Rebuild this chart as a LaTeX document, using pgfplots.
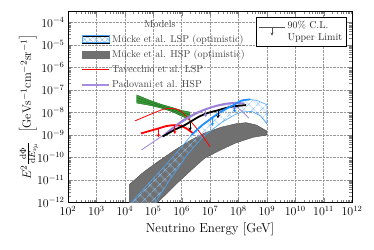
\documentclass[border=0pt]{standalone}
\usepackage{pgfplots}
\pgfplotsset{compat=1.18}
\usetikzlibrary{arrows.meta,patterns.meta}
\definecolor{ublue}{HTML}{1E8FFF}
\definecolor{hblue}{HTML}{8CC0F2}
\definecolor{eblue}{HTML}{4BA6FA}
\definecolor{gfill}{HTML}{707070}
\definecolor{gedge}{HTML}{505050}
\definecolor{gr}{HTML}{3E9E3E}
\definecolor{dgr}{HTML}{1B6B1B}
\definecolor{purp}{HTML}{A48DDE}
\definecolor{purpk}{HTML}{9C80D8}
\pgfplotsset{table/lg/.style={x expr={10^(\thisrowno{0})}, y expr={10^(\thisrowno{1})}}}
\tikzset{arr/.style={-{Stealth[length=3pt,width=3.5pt]}, line width=0.9pt}}
\begin{document}
\begin{tikzpicture}
\begin{axis}[name=ax, scale only axis, width=284pt, height=191pt,
  xmode=log, ymode=log, xmin=1e2, xmax=1e12, ymin=1e-12, ymax=3.09e-4,
  xtick={1e2,1e3,1e4,1e5,1e6,1e7,1e8,1e9,1e10,1e11,1e12},
  ytick={1e-12,1e-11,1e-10,1e-9,1e-8,1e-7,1e-6,1e-5,1e-4},
  grid=major, major grid style={densely dotted, gray!80},
  tick label style={font=\fontsize{12}{14}\selectfont},
  label style={font=\fontsize{13}{15}\selectfont},
  xlabel={Neutrino Energy [GeV]},
  ylabel={$E^2\frac{\mathrm{d}\Phi}{\mathrm{d}E_{\nu_\mu}}$\ \ $\left[\mathrm{GeV s^{-1} cm^{-2} sr^{-1}}\right]$},
  ylabel shift=-8pt,
  legend style={at={(rel axis cs:0.035,0.9)}, anchor=north west, draw=none, fill=none,
    font=\fontsize{10}{12}\selectfont, text=black!75, row sep=2.4pt},
  legend cell align=left,
]
% grey band (HSP)
\addplot[fill=gfill, draw=gedge, line width=0.4pt, forget plot] table[lg] {
4.16 -11.2
4.66 -10.65
5.17 -10.18
5.78 -9.65
6.35 -9.21
6.79 -8.92
7.40 -8.65
7.91 -8.5
8.27 -8.45
8.62 -8.55
9.0 -8.82
9.0 -9.0
8.52 -9.1
7.91 -9.35
7.40 -9.65
6.81 -10.03
6.35 -10.55
5.88 -11.1
5.48 -11.6
5.07 -12.1
4.16 -12.1
} -- cycle;
% blue hatched band (LSP)
\addplot[pattern={Hatch[angle=45,distance=6.5pt,line width=0.7pt]}, pattern color=hblue, draw=eblue, line width=0.6pt, forget plot] table[lg] {
4.16 -12.1
4.66 -11.4
5.17 -10.7
5.78 -9.85
6.35 -9.0
6.69 -8.6
7.06 -8.25
7.40 -7.95
7.81 -7.68
8.11 -7.47
8.37 -7.42
8.62 -7.45
9.0 -7.65
9.0 -8.5
8.78 -8.15
8.47 -7.95
8.11 -7.98
7.87 -8.1
7.40 -8.45
6.76 -9.07
6.18 -9.9
5.58 -11.0
5.02 -12.1
} -- cycle;
% green band
\addplot[fill=gr, draw=dgr, line width=0.4pt, forget plot] table[lg] {
4.42 -7.22
4.87 -7.45
5.27 -7.63
5.68 -7.78
5.98 -7.9
6.29 -7.98
6.29 -8.32
5.98 -8.15
5.68 -7.97
5.27 -7.8
4.87 -7.68
4.42 -7.58
} -- cycle;
\addplot[dgr, line width=0.5pt, forget plot] table[lg] {
4.42 -7.34
4.87 -7.53
5.27 -7.69
5.68 -7.85
5.98 -7.99
6.29 -8.1
};
\addplot[dgr, line width=0.5pt, forget plot] table[lg] {
4.42 -7.46
4.87 -7.61
5.27 -7.75
5.68 -7.91
5.98 -8.07
6.29 -8.21
};
% Tavecchio LSP (thin red)
\addplot[red, line width=0.8pt, smooth, forget plot] table[lg] {
4.36 -8.37
4.87 -8.1
5.38 -7.85
5.73 -7.83
5.98 -7.95
6.29 -8.35
6.59 -8.8
6.8 -9.15
7.0 -9.52
};
% Padovani HSP (thin purple)
\addplot[purp, line width=0.9pt, smooth, forget plot] table[lg] {
4.59 -9.66
5.07 -9.25
5.48 -8.9
5.88 -8.55
6.39 -8.15
6.9 -7.85
7.4 -7.68
7.71 -7.66
8.01 -7.82
8.37 -8.25
};
% upper limits
\addplot[red, line width=1.8pt, smooth, forget plot] table[lg] {
4.57 -8.93
4.87 -8.82
5.18 -8.71
5.48 -8.6
5.76 -8.56
5.98 -8.6
6.17 -8.71
6.41 -8.93
};
\addplot[purpk, line width=1.8pt, smooth, forget plot] table[lg] {
5.43 -8.95
5.78 -8.6
6.11 -8.3
6.59 -7.98
6.9 -7.83
7.28 -7.68
7.61 -7.6
7.91 -7.57
8.22 -7.6
};
\addplot[black, line width=1.8pt, smooth, forget plot] table[lg] {
5.33 -9.07
5.78 -8.75
6.11 -8.56
6.59 -8.2
6.9 -8.03
7.28 -7.9
7.71 -7.75
8.01 -7.7
8.27 -7.67
};
\addplot[ublue, line width=1.8pt, smooth, forget plot] table[lg] {
6.35 -9.0
6.69 -8.6
7.06 -8.25
7.40 -7.95
7.81 -7.68
8.11 -7.47
8.42 -7.42
};
% arrows
\addplot[red, arr, forget plot] table[lg] {
5.18 -8.71
5.18 -9.1
};
\addplot[red, arr, forget plot] table[lg] {
5.76 -8.56
5.76 -8.95
};
\addplot[black, arr, forget plot] table[lg] {
6.3 -8.45
6.3 -8.8
};
\addplot[black, arr, forget plot] table[lg] {
7.28 -7.9
7.28 -8.25
};
\addplot[purpk, arr, forget plot] table[lg] {
6.85 -7.86
6.85 -8.2
};
\addplot[purpk, arr, forget plot] table[lg] {
7.86 -7.58
7.86 -7.9
};
\addplot[ublue, arr, forget plot] table[lg] {
7.08 -8.23
7.08 -8.6
};
\addplot[ublue, arr, forget plot] table[lg] {
7.87 -7.64
7.87 -8.0
};
\node[font=\fontsize{10}{12}\selectfont, text=black!75] at (rel axis cs:0.324,0.933) {Models};
\addlegendimage{legend image code/.code={
  \fill[pattern={Hatch[angle=45,distance=4pt,line width=0.5pt]}, pattern color=hblue] (0pt,-3.5pt) rectangle (27pt,3.5pt);
  \draw[eblue, line width=0.7pt] (0pt,-3.5pt) rectangle (27pt,3.5pt);}}
\addlegendentry{M\"ucke et al. LSP (optimistic)}
\addlegendimage{legend image code/.code={\fill[gfill] (0pt,-3.5pt) rectangle (27pt,3.5pt);}}
\addlegendentry{M\"ucke et al. HSP (optimistic)}
\addlegendimage{legend image code/.code={\draw[red, line width=0.8pt] (0pt,0pt) -- (27pt,0pt);}}
\addlegendentry{Tavecchio et al. LSP}
\addlegendimage{legend image code/.code={\draw[purp, line width=2pt] (0pt,0pt) -- (27pt,0pt);}}
\addlegendentry{Padovani et al. HSP}
\end{axis}
\begin{axis}[scale only axis, width=284pt, height=191pt, hide axis,
  xmode=log, ymode=log, xmin=1e2, xmax=1e12, ymin=1e-12, ymax=3.09e-4,
  legend style={at={(rel axis cs:0.981,0.973)}, anchor=north east, draw=black, line width=0.8pt, fill=white,
    font=\fontsize{10}{12}\selectfont, text=black!85, cells={align=left}, inner sep=2pt},
  legend cell align=left]
\addplot[draw=none, forget plot] coordinates {(1e3,1e-8)};
\addlegendimage{legend image code/.code={
  \draw[gray!65!black, line width=1.2pt] (0pt,4pt) -- (26pt,4pt);
  \draw[gray!65!black, line width=0.8pt, -{Stealth[length=3pt,width=3pt]}] (13pt,4pt) -- (13pt,-4pt);}}
\addlegendentry{90\% C.L.\\Upper Limit}
\end{axis}
\pgfresetboundingbox
\useasboundingbox ([shift={(-68pt,-46.5pt)}]ax.south west) rectangle ([shift={(22pt,11.5pt)}]ax.north east);
\end{tikzpicture}
\end{document}
